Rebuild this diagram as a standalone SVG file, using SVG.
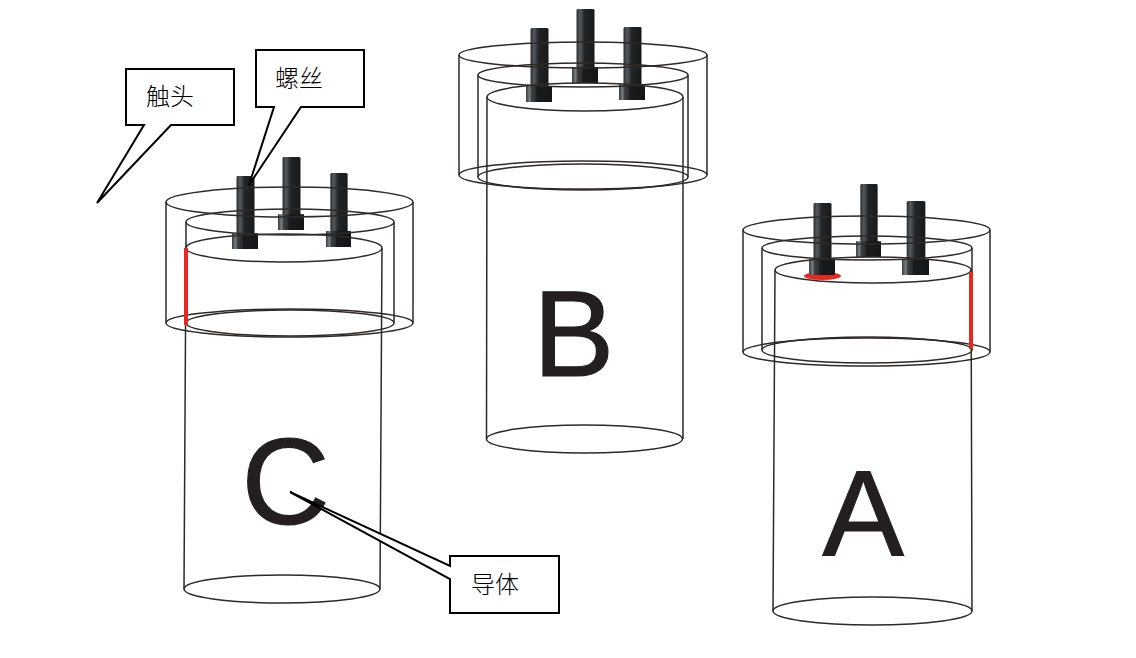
<svg xmlns="http://www.w3.org/2000/svg" xmlns:xlink="http://www.w3.org/1999/xlink" width="1136" height="658" viewBox="0 0 1136 658">
<defs>
<linearGradient id="shaftGrad" x1="0" x2="1" y1="0" y2="0">
<stop offset="0" stop-color="#2a2d2f"/><stop offset="0.2" stop-color="#565a5c"/><stop offset="0.45" stop-color="#222527"/><stop offset="1" stop-color="#17191a"/>
</linearGradient>
<linearGradient id="headGrad" x1="0" x2="1" y1="0" y2="0">
<stop offset="0" stop-color="#3a3d3f"/><stop offset="0.14" stop-color="#7a7e80"/><stop offset="0.22" stop-color="#3b3e40"/><stop offset="0.38" stop-color="#2c2f31"/><stop offset="0.42" stop-color="#191b1c"/><stop offset="1" stop-color="#151617"/>
</linearGradient>
<symbol id="bolt" viewBox="0 0 26 74" width="26" height="74" preserveAspectRatio="none">
<path d="M4.500 1.500 Q4.500 0 6 0 H21 Q22.500 0 22.500 1.500 V59 H4.500 Z" fill="url(#shaftGrad)"/>
<rect x="0" y="58" width="26" height="16" fill="url(#headGrad)"/>
</symbol>
</defs>
<style>
.w{fill:none;stroke:#2e2a28;stroke-width:1.500}
.r{fill:none;stroke:#e8281f;stroke-width:4}
.l{font-family:"Liberation Sans",Arial,sans-serif;font-size:122px;fill:#231f20;stroke:#231f20;stroke-width:1.200}
.c{fill:#fff;stroke:#000;stroke-width:2;stroke-linejoin:miter}
.t{font-family:"Noto Sans CJK SC",sans-serif;font-size:24px;font-weight:300;fill:#000}
</style>
<rect width="1136" height="658" fill="#fff"/>

<g id="part-C">
<use xlink:href="#bolt" href="#bolt" x="232" y="176" width="26" height="73"/>
<use xlink:href="#bolt" href="#bolt" x="278" y="157" width="26" height="73"/>
<use xlink:href="#bolt" href="#bolt" x="326" y="173" width="25" height="74"/>
<ellipse class="w" cx="289.500" cy="202" rx="123.500" ry="15"/>
<ellipse class="w" cx="289.500" cy="323" rx="123.500" ry="14"/>
<path class="w" d="M166 202V323M413 202V323"/>
<ellipse class="w" cx="290" cy="222" rx="104" ry="13"/>
<ellipse class="w" cx="290" cy="323" rx="104" ry="13"/>
<path class="w" d="M186 222V323M394 222V323"/>
<ellipse class="w" cx="284" cy="248" rx="98" ry="14"/>
<ellipse class="w" cx="282" cy="589" rx="98" ry="14"/>
<path class="w" d="M186 248L184 589M382 248L380 589"/>
<path class="r" d="M186 248V325"/>
<text class="l" x="241.500" y="524">C</text>
</g>

<g id="part-B">
<use xlink:href="#bolt" href="#bolt" x="526" y="28" width="26" height="74"/>
<use xlink:href="#bolt" href="#bolt" x="572" y="9" width="26" height="74"/>
<use xlink:href="#bolt" href="#bolt" x="619" y="27" width="26" height="73"/>
<ellipse class="w" cx="583" cy="55" rx="124" ry="13"/>
<ellipse class="w" cx="583" cy="175" rx="124" ry="14"/>
<path class="w" d="M459 55V175M707 55V175"/>
<ellipse class="w" cx="583" cy="75" rx="105" ry="12"/>
<ellipse class="w" cx="583" cy="177" rx="105" ry="13"/>
<path class="w" d="M478 75V177M688 75V177"/>
<ellipse class="w" cx="585" cy="97" rx="98" ry="14"/>
<ellipse class="w" cx="584.500" cy="439" rx="98" ry="14"/>
<path class="w" d="M487 97L486.500 439M683 97V439"/>
<text class="l" x="533" y="375.500">B</text>
</g>

<g id="part-A">
<ellipse cx="822.500" cy="276" rx="18.500" ry="4" fill="#e8281f"/>
<use xlink:href="#bolt" href="#bolt" x="809" y="203" width="26" height="72"/>
<use xlink:href="#bolt" href="#bolt" x="856" y="184" width="25" height="73"/>
<use xlink:href="#bolt" href="#bolt" x="902" y="201" width="27" height="74"/>
<ellipse class="w" cx="866.500" cy="230" rx="123.500" ry="14"/>
<ellipse class="w" cx="866.500" cy="352" rx="123.500" ry="14"/>
<path class="w" d="M743 230V352M990 230V352"/>
<ellipse class="w" cx="867" cy="248" rx="105" ry="12"/>
<ellipse class="w" cx="867" cy="350" rx="105" ry="13"/>
<path class="w" d="M762 248V350M972 248V350"/>
<ellipse class="w" cx="873" cy="270" rx="98" ry="13"/>
<ellipse class="w" cx="872.500" cy="611" rx="99.500" ry="14"/>
<path class="w" d="M775 270L773 611M971 270L972 611"/>
<path class="r" d="M971 272V349"/>
<text class="l" x="822.500" y="555.500">A</text>
</g>

<g id="callouts">
<g id="callout-chutou">
<path class="c" d="M126 69H234V125H171L97 203L144 125H126Z"/>
<text class="t" x="146" y="105">触头</text>
</g>
<g id="callout-luosi">
<path class="c" d="M256 50H364V107H301L249 185L274 107H256Z"/>
<text class="t" x="275" y="87">螺丝</text>
</g>
<g id="callout-daoti">
<path class="c" d="M450 556H559V613H450V579L290 492L450 566Z"/>
<text class="t" x="471" y="593">导体</text>
</g>
</g>
</svg>
